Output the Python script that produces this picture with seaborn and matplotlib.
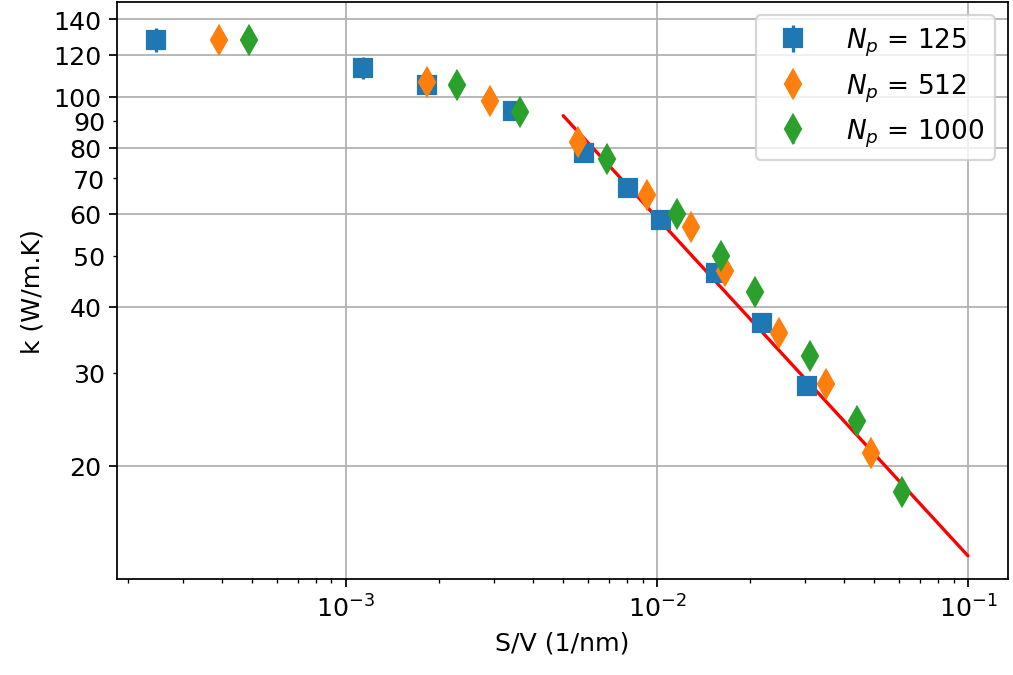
import numpy as np
import pandas as pd
import seaborn as sns
import matplotlib.pyplot as plt
import matplotlib.ticker as tkr

# ------------------ DATA ------------------ #
# N_p = 125
sv_125 = [2.45e-4, 1.14e-3, 1.82e-3, 3.44e-3, 5.82e-3, 8.07e-3, 1.03e-2, 1.55e-2, 2.18e-2, 3.03e-2]
k_125 = [128.2, 113.5, 105.3, 94.0, 78.3, 67.2, 58.5, 46.4, 37.3, 28.3]
err_125 = [6.5, 5.5, 3.5, 3.0, 2.0, 1.5, 1.2, 1.0, 0.8, 0.6]

# N_p = 512
sv_512 = [3.91e-4, 1.82e-3, 2.90e-3, 5.57e-3, 9.29e-3, 1.285e-2, 1.66e-2, 2.47e-2, 3.49e-2, 4.88e-2]
k_512 = [128.2, 106.7, 98.2, 82.2, 65.2, 56.7, 46.8, 35.6, 28.5, 21.1]
err_512 = [2.0, 2.0, 1.5, 1.5, 1.2, 1.0, 0.8, 0.6, 0.5, 0.4]

# N_p = 1000
sv_1000 = [4.87e-4, 2.28e-3, 3.62e-3, 6.90e-3, 1.16e-2, 1.61e-2, 2.07e-2, 3.10e-2, 4.40e-2, 6.14e-2]
k_1000 = [128.2, 105.3, 93.6, 76.0, 59.8, 49.8, 42.7, 32.2, 24.3, 17.8]
err_1000 = [2.0, 2.0, 1.5, 1.5, 1.0, 0.8, 0.8, 0.6, 0.5, 0.4]

# power-law fit line end points
fit_sv = [5.0e-3, 1.0e-1]
fit_k = [92.0, 13.5]

series = [
    (sv_125, k_125, err_125, 's', 8, r'$N_p$ = 125'),
    (sv_512, k_512, err_512, 'd', 9, r'$N_p$ = 512'),
    (sv_1000, k_1000, err_1000, 'd', 9, r'$N_p$ = 1000'),
]

y_major = [20, 40, 60, 80, 100, 120, 140]
y_minor = [30, 50, 70, 90]

# ------------------ CHART ------------------ #
sns.set_style('ticks', {'text.color': 'black', 'axes.labelcolor': 'black',
                        'xtick.color': 'black', 'ytick.color': 'black',
                        'axes.edgecolor': 'black'})
plt.rcParams['font.family'] = ['DejaVu Sans']
plt.rcParams['font.size'] = 11.5
colors = sns.color_palette('tab10', 3)

fig, ax = plt.subplots(figsize=(6.4, 4.27), dpi=158.3)
fig.subplots_adjust(left=0.1155, right=0.995, bottom=0.142, top=0.9956)

fit_df = pd.DataFrame({'sv': fit_sv, 'k': fit_k})
sns.lineplot(data=fit_df, x='sv', y='k', color='red', linewidth=1.5, ax=ax, zorder=1)

for (sv, k, err, mk, ms, lab), c in zip(series, colors):
    ax.errorbar(sv, k, yerr=err, fmt=mk, markersize=ms, color=c, label=lab, zorder=2)

ax.set_xscale('log')
ax.set_yscale('log')
ax.set_xlim(1.84e-4, 0.1346)
ax.set_ylim(12.2, 151)

ax.set_yticks(y_major)
ax.set_yticks(y_minor, minor=True)
ax.yaxis.set_major_formatter(tkr.FuncFormatter(lambda y, p: f'{y:.0f}'))
ax.yaxis.set_minor_formatter(tkr.FuncFormatter(lambda y, p: f'{y:.0f}'))
ax.tick_params(axis='both', which='both', direction='out', labelsize=11.5)

ax.grid(True, which='major', color='#b0b0b0', linewidth=0.8)
for spine in ax.spines.values():
    spine.set_visible(True)
    spine.set_linewidth(0.8)

ax.set_xlabel('S/V (1/nm)', fontsize=11.5)
ax.set_ylabel('k (W/m.K)', fontsize=11.5)
ax.legend(loc='upper right', fontsize=12, handletextpad=1.0, borderpad=0.4)

fig.savefig('out.png', dpi=158.3)
